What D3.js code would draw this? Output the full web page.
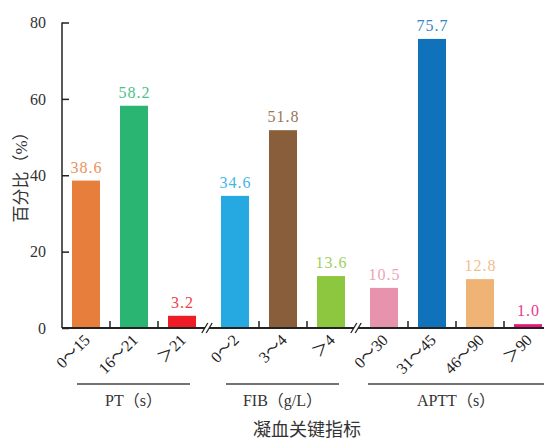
<!DOCTYPE html>
<html>
<head>
<meta charset="utf-8">
<script src="https://cdn.jsdelivr.net/npm/d3@7/dist/d3.min.js"></script>
<style>
  html, body { margin: 0; padding: 0; background: #fff; }
  svg { display: block; }
</style>
</head>
<body>
<svg id="chart" width="544" height="440"></svg>
<script>
// Coagulation index categories, grouped by test
const categories = ["0～15", "16～21", "＞21", "0～2", "3～4", "＞4", "0～30", "31～45", "46～90", "＞90"];
const groupOf    = [0, 0, 0, 1, 1, 1, 2, 2, 2, 2];
const groupNames = ["PT（s）", "FIB（g/L）", "APTT（s）"];
const values     = [38.6, 58.2, 3.2, 34.6, 51.8, 13.6, 10.5, 75.7, 12.8, 1.0];
const colors     = ["#E77E3B", "#2BB573", "#EE1C25", "#25A9E0", "#885E3B",
                    "#8DC63F", "#E893AC", "#1072BA", "#EFB376", "#E5177B"];
const yTicks     = [0, 20, 40, 60, 80];

(function draw() {
  const SERIF = "'Liberation Serif', 'Noto Sans CJK SC', serif";
  const svg = d3.select("#chart");
  const plotLeft = 62, plotRight = 542, plotTop = 22.5, plotBottom = 328;
  const groupGap = 5;
  const axisColor = "#222";

  const x = d3.scaleBand()
    .domain(categories)
    .range([plotLeft, plotRight])
    .paddingInner(20 / 48)
    .paddingOuter(10 / 48);
  const xPos = (c, i) => x(c) + groupOf[i] * groupGap;
  const y = d3.scaleLinear().domain([0, 80]).range([plotBottom, plotTop]);

  // Bars
  svg.append("g").selectAll("rect")
    .data(values)
    .join("rect")
    .attr("x", (d, i) => xPos(categories[i], i))
    .attr("y", d => y(d))
    .attr("width", x.bandwidth())
    .attr("height", d => y(0) - y(d))
    .attr("fill", (d, i) => colors[i]);

  // Value labels above bars, in a slightly lighter tint of the bar colour
  svg.append("g").selectAll("text")
    .data(values)
    .join("text")
    .style("font-family", SERIF)
    .attr("x", (d, i) => xPos(categories[i], i) + x.bandwidth() / 2 + 0.5)
    .attr("y", d => y(d) - 8)
    .attr("text-anchor", "middle")
    .attr("font-size", 16)
    .attr("letter-spacing", 1)
    .attr("fill", (d, i) => d3.interpolateRgb(colors[i], "#fff")(0.15))
    .text(d => d.toFixed(1));

  // Y axis with inward ticks
  const yAxis = d3.axisLeft(y).tickValues(yTicks).tickSize(-7).tickPadding(16);
  const gy = svg.append("g").attr("transform", `translate(${plotLeft},0)`).call(yAxis);
  gy.select(".domain").attr("stroke", axisColor).attr("stroke-width", 1.5).attr("d", `M0,${plotTop}V${plotBottom}`);
  gy.selectAll(".tick line").attr("stroke", axisColor).attr("stroke-width", 1.5);
  gy.attr("font-family", null).attr("font-size", null);
  gy.selectAll(".tick text")
    .style("font-family", SERIF)
    .attr("font-size", 16)
    .attr("fill", "#333");

  // X axis baseline
  svg.append("line")
    .attr("x1", plotLeft).attr("x2", 544)
    .attr("y1", y(0)).attr("y2", y(0))
    .attr("stroke", axisColor).attr("stroke-width", 1.8);

  // Inward separator ticks between neighbouring bars of the same group
  const sepTicks = [];
  const breaks = [];
  for (let i = 0; i < categories.length - 1; i++) {
    const a = xPos(categories[i], i) + x.bandwidth();
    const b = xPos(categories[i + 1], i + 1);
    if (groupOf[i] === groupOf[i + 1]) sepTicks.push((a + b) / 2);
    else breaks.push((a + b) / 2 - 1.5);
  }
  svg.append("g").selectAll("line")
    .data(sepTicks)
    .join("line")
    .attr("x1", d => d).attr("x2", d => d)
    .attr("y1", y(0)).attr("y2", y(0) - 7)
    .attr("stroke", axisColor).attr("stroke-width", 1.5);

  // Axis break marks
  const br = svg.append("g").selectAll("g")
    .data(breaks)
    .join("g")
    .attr("transform", d => `translate(${d},${y(0)})`);
  br.append("rect").attr("x", -2).attr("y", -3).attr("width", 4).attr("height", 6).attr("fill", "#fff");
  br.selectAll("line")
    .data([-2.2, 2.2])
    .join("line")
    .attr("x1", d => d - 3).attr("y1", 5)
    .attr("x2", d => d + 3).attr("y2", -5)
    .attr("stroke", axisColor).attr("stroke-width", 1.3);

  // Rotated category labels
  svg.append("g").selectAll("text")
    .data(categories)
    .join("text")
    .style("font-family", SERIF)
    .attr("font-size", 16)
    .attr("fill", "#222")
    .attr("text-anchor", "end")
    .attr("transform", (d, i) => `translate(${xPos(d, i) + x.bandwidth() / 2 + 5},${y(0) + 13}) rotate(-45)`)
    .text(d => d);

  // Group brackets and names
  const spans = d3.range(groupNames.length).map(g => {
    const idx = d3.range(categories.length).filter(i => groupOf[i] === g);
    const first = idx[0], last = idx[idx.length - 1];
    const x0 = xPos(categories[first], first) - (g === 2 ? 2 : -5);
    const x1 = g === 2 ? 544 : xPos(categories[last], last) + x.bandwidth() - 6;
    return [x0, x1];
  });
  svg.append("g").selectAll("line")
    .data(spans)
    .join("line")
    .attr("x1", d => d[0]).attr("x2", d => d[1])
    .attr("y1", 384).attr("y2", 384)
    .attr("stroke", "#444").attr("stroke-width", 1.5);
  svg.append("g").selectAll("text")
    .data(groupNames)
    .join("text")
    .style("font-family", SERIF)
    .attr("font-size", 16)
    .attr("fill", "#333")
    .attr("text-anchor", "middle")
    .attr("x", (d, g) => (spans[g][0] + spans[g][1]) / 2)
    .attr("y", 406)
    .text(d => d);

  // Axis titles
  svg.append("text")
    .style("font-family", SERIF)
    .attr("font-size", 18)
    .attr("fill", "#333")
    .attr("text-anchor", "middle")
    .attr("x", 307).attr("y", 436)
    .text("凝血关键指标");

  svg.append("text")
    .style("font-family", SERIF)
    .attr("font-size", 17)
    .attr("fill", "#333")
    .attr("text-anchor", "middle")
    .attr("transform", "translate(27,173) rotate(-90)")
    .text("百分比（%）");
})();
</script>
</body>
</html>
